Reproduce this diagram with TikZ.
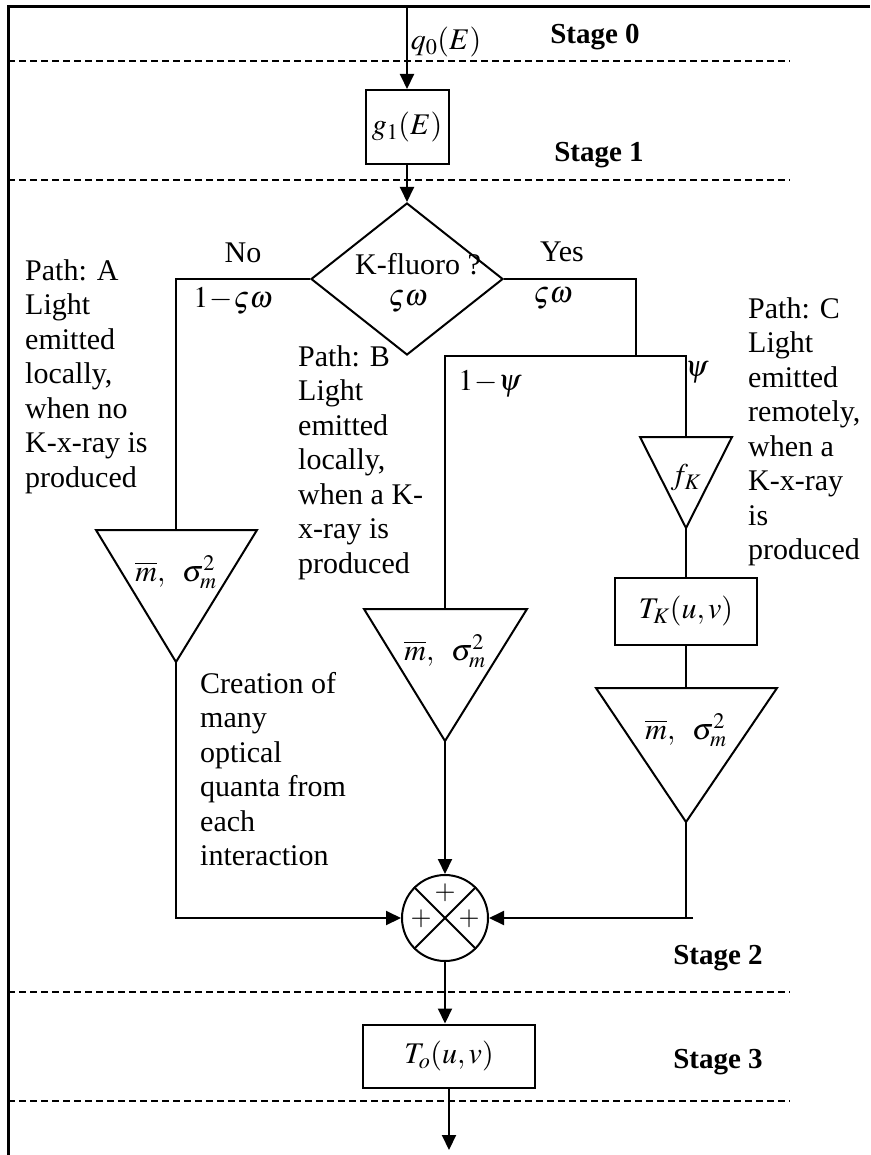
\documentclass[tikz,border=0pt]{standalone}
\usepackage{mathptmx}
\usepackage[no-math]{fontspec}
\setmainfont{Liberation Serif}
\usetikzlibrary{arrows.meta,shapes.geometric}
\begin{document}
\begin{tikzpicture}[x=1pt,y=-1pt,
  lbl/.style={inner sep=0pt, font=\fontsize{30}{34.5}\selectfont},
  para/.style={lbl, align=left, anchor=north west},
  stagelbl/.style={inner sep=0pt, font=\fontsize{29}{34}\selectfont\bfseries},
  box/.style={draw, line width=2pt, inner sep=0pt, font=\fontsize{30}{34.5}\selectfont},
  conn/.style={line width=2pt},
  arr/.style={conn, -{Triangle[length=15pt,width=14pt]}},
  sepline/.style={line width=2pt, dash pattern=on 7pt off 4pt},
  tri/.style={line width=2pt, line join=miter},
  plus/.style={inner sep=0pt, font=\fontsize{27}{30}\selectfont}
]
\useasboundingbox (0,0) rectangle (870,1155);
% frame
\draw[line width=3pt] (8,1155) -- (8,7) -- (870,7);
% stage separators
\draw[sepline] (8,61) -- (790,61);
\draw[sepline] (8,180) -- (790,180);
\draw[sepline] (8,992) -- (790,992);
\draw[sepline] (8,1101) -- (790,1101);
% stage labels
\node[stagelbl] (s0) at (595,37) {Stage 0};
\node[stagelbl] (s1) at (599,155) {Stage 1};
\node[stagelbl] (s2) at (718,958) {Stage 2};
\node[stagelbl] (s3) at (718,1062) {Stage 3};

% top input
\coordinate (in) at (407,7);
\node[lbl] (q0) at (446,42) {$q_0(E)$};
\node[box, minimum width=83pt, minimum height=74pt] (g1) at (407,127) {$g_1(E)$};
\draw[arr] (in) -- (g1);

% decision
\node[draw, diamond, line width=2pt, minimum width=192pt, minimum height=152pt, inner sep=0pt] (dia) at (407,279) {};
\node[lbl] (kf) at (418,264) {K-fluoro ?};
\node[lbl] (kfp) at (408,302) {$\varsigma\omega$};
\draw[arr] (g1) -- (dia);

% branch labels
\node[lbl] (no) at (243,253) {No};
\node[lbl] (nop) at (233,301) {$1\!-\!\varsigma\omega$};
\node[lbl] (yes) at (562,252) {Yes};
\node[lbl] (yesp) at (553,299) {$\varsigma\omega$};
\node[lbl] (omp) at (490,384) {$1\!-\!\psi$};
\node[lbl] (psi) at (697,372) {$\psi$};

% coordinates
\coordinate (aT) at (176,530);
\coordinate (aB) at (176,662);
\coordinate (sM) at (636,356);
\coordinate (sL) at (445,356);
\coordinate (sR) at (686,356);
\coordinate (bT) at (445,609);
\coordinate (bB) at (445,741);
\coordinate (fT) at (686,437);
\coordinate (fB) at (686,528);
\coordinate (cT) at (686,688);
\coordinate (cB) at (686,822);
\coordinate (cE) at (693,918);
\coordinate (out) at (449,1150);

% branch lines
\draw[conn] (dia.west) -| (aT);
\draw[conn] (dia.east) -| (sM);
\draw[conn] (bT) -- (sL) -- (sR) -- (fT);

% triangles
\draw[tri] (96,530) -- (257,530) -- (aB) -- cycle;
\node[lbl] (ta) at (176,572) {$\overline{m},\;\;\sigma_m^2$};
\draw[tri] (364,609) -- (527,609) -- (bB) -- cycle;
\node[lbl] (tb) at (445,651) {$\overline{m},\;\;\sigma_m^2$};
\draw[tri] (640,437) -- (732,437) -- (fB) -- cycle;
\node[lbl] (fk) at (686,478) {$f_K$};
\node[box, minimum width=142pt, minimum height=67pt] (TK) at (686,611) {$T_K(u,v)$};
\draw[conn] (fB) -- (TK);
\draw[conn] (TK) -- (cT);
\draw[tri] (596,688) -- (777,688) -- (cB) -- cycle;
\node[lbl] (tc) at (686,730) {$\overline{m},\;\;\sigma_m^2$};

% path descriptions
\node[para] (pa) at (25,259) {Path: A\\Light\\emitted\\locally,\\when no\\K-x-ray is\\produced};
\node[para] (pb) at (298,345) {Path: B\\Light\\emitted\\locally,\\when a K-\\x-ray is\\produced};
\node[para] (pc) at (748,297) {Path: C\\Light\\emitted\\remotely,\\when a\\K-x-ray\\is\\produced};
\node[para] (cr) at (200,672) {Creation of\\many\\optical\\quanta from\\each\\interaction};

% summing junction
\node[draw, circle, line width=2pt, minimum size=86pt, inner sep=0pt] (sum) at (445,918) {};
\draw[conn] (sum.north west) -- (sum.south east);
\draw[conn] (sum.north east) -- (sum.south west);
\node[plus] (p1) at (445,893) {$+$};
\node[plus] (p2) at (421,919) {$+$};
\node[plus] (p3) at (469,919) {$+$};
\draw[arr] (aB) |- (sum);
\draw[arr] (bB) -- (sum);
\draw[conn] (cB) -- (cB |- cE);
\draw[arr] (cE) -- (sum);

% output
\node[box, minimum width=172pt, minimum height=63pt] (To) at (449,1056) {$T_o(u,v)$};
\draw[arr] (sum) -- (sum |- To.north);
\draw[arr] (To) -- (out);
\end{tikzpicture}
\end{document}
